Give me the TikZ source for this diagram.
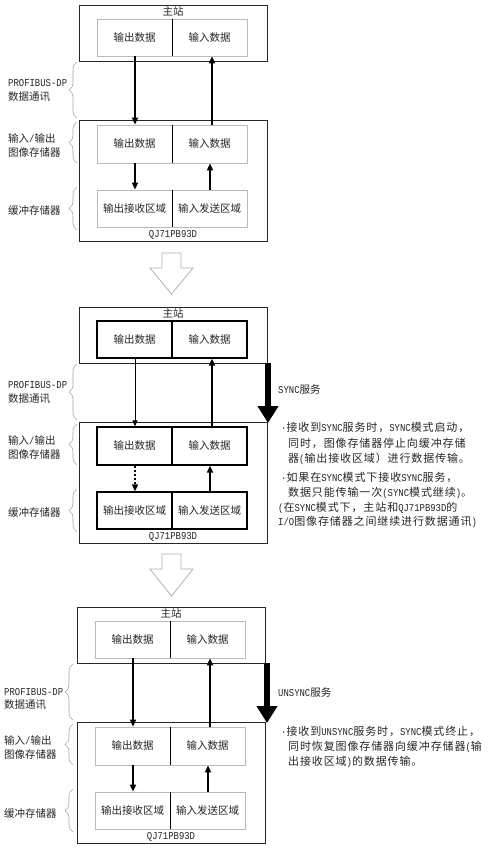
\documentclass[tikz,border=0pt]{standalone}
\usepackage{fontspec}
\setmainfont{Noto Sans CJK SC}
\newfontfamily\notefont{Noto Sans CJK SC}[LetterSpace=8]
\newfontfamily\latf{Liberation Mono}[FakeStretch=0.85]
\usetikzlibrary{arrows.meta,decorations.pathreplacing}
\newcommand\latn[1]{{\fontsize{10.5}{12}\selectfont\latf #1}}
\newcommand\latsm[1]{{\fontsize{10.5}{12}\selectfont\latf #1}}
\tikzset{
  outer/.style={draw=black!85, line width=0.9pt, minimum width=188pt, inner sep=0},
  half/.style={draw=gray!55, line width=0.8pt, minimum width=75pt, minimum height=37pt, inner sep=0, text height=8.5pt, text depth=1.5pt},
  halfb/.style={half, draw=black, line width=1.3pt},
  divl/.style={draw=black, line width=0.9pt},
  txt/.style={inner sep=0, text height=8.5pt, text depth=1.5pt},
  note/.style={txt, anchor=west, font=\notefont\fontsize{11}{13}\selectfont},
  brc/.style={draw=gray!70, line width=0.6pt, decorate, decoration={brace, amplitude=8pt}},
  arr/.style={line width=1.8pt, -{Triangle[width=6pt,length=7pt]}},
  tarr/.style={line width=0.8pt, -{Triangle[width=5pt,length=6pt]}},
  darr/.style={arr, dash pattern=on 2.5pt off 1.5pt},
  bigarr/.style={line width=5.5pt, -{Triangle[width=20pt,length=17pt]}},
  hollow/.style={draw=gray!60, line width=0.8pt, fill=white},
}
\begin{document}
\begin{tikzpicture}[x=1pt, y=-1pt, font=\fontsize{10.5}{12}\selectfont, text=black!85]
\fill[white] (0,0) rectangle (490,849);
\useasboundingbox (0,0) rectangle (490,849);

% ---------------- Panel 1 ----------------
\begin{scope}[name prefix=a-]
\node[outer, minimum height=56pt] (main) at (173,33) {};
\node[txt] (title) at (173,12) {主站};
\node[half] (mo) at (134.5,37.5) {输出数据};
\node[half] (mi) at (209.5,37.5) {输入数据};
\draw[divl] (mo.north east) -- (mo.south east);
\node[outer, minimum height=121pt] (qj) at (173,180.5) {};
\node[half, minimum height=38pt] (ioo) at (134.5,144) {输出数据};
\node[half, minimum height=38pt] (ioi) at (209.5,144) {输入数据};
\draw[divl] (ioo.north east) -- (ioo.south east);
\node[half] (bo) at (134.5,208.5) {输出接收区域};
\node[half] (bi) at (209.5,208.5) {输入发送区域};
\draw[divl] (bo.north east) -- (bo.south east);
\node[txt] (lbl) at (173,234) {\latn{QJ71PB93D}};
\draw[arr] ([xshift=0.5pt]mo.south) -- ([xshift=0.5pt]ioo.north);
\draw[arr] ([xshift=2.5pt]ioi.north) -- ([xshift=2.5pt]mi.south);
\draw[arr] ([xshift=0.5pt]ioo.south) -- ([xshift=0.5pt]bo.north);
\draw[arr] ([xshift=0.5pt]bi.north) -- ([xshift=0.5pt]ioi.south);
\node[txt, anchor=west] (l1a) at (8,83) {\latn{PROFIBUS-DP}};
\node[txt, anchor=west] (l1b) at (8,97) {数据通讯};
\node[txt, anchor=west] (l2a) at (8,139) {输入\latn{/}输出};
\node[txt, anchor=west] (l2b) at (8,153) {图像存储器};
\node[txt, anchor=west] (l3) at (8,211) {缓冲存储器};
\draw[brc] (77,118) -- (77,62);
\draw[brc] (77,163) -- (77,122);
\draw[brc] (77,230) -- (77,187);
\end{scope}

% hollow arrow 1
\draw[hollow] (162,253) -- (181,253) -- (181,268) -- (193,268) -- (171.5,294) -- (150,268) -- (162,268) -- cycle;

% ---------------- Panel 2 ----------------
\begin{scope}[shift={(0,302)}, name prefix=b-]
\node[outer, minimum height=56pt] (main) at (173,33) {};
\node[txt] (title) at (173,12) {主站};
\node[halfb] (mo) at (134.5,37.5) {输出数据};
\node[halfb] (mi) at (209.5,37.5) {输入数据};
\node[outer, minimum height=121pt] (qj) at (173,180.5) {};
\node[halfb, minimum height=38pt] (ioo) at (134.5,144) {输出数据};
\node[halfb, minimum height=38pt] (ioi) at (209.5,144) {输入数据};
\node[halfb] (bo) at (134.5,208.5) {输出接收区域};
\node[halfb] (bi) at (209.5,208.5) {输入发送区域};
\node[txt] (lbl) at (173,234) {\latn{QJ71PB93D}};
\draw[tarr] ([xshift=0.5pt]mo.south) -- ([xshift=0.5pt]ioo.north);
\draw[arr] ([xshift=2.5pt]ioi.north) -- ([xshift=2.5pt]mi.south);
\draw[darr] ([xshift=0.5pt]ioo.south) -- ([xshift=0.5pt]bo.north);
\draw[arr] ([xshift=0.5pt]bi.north) -- ([xshift=0.5pt]ioi.south);
\node[txt, anchor=west] (l1a) at (8,83) {\latn{PROFIBUS-DP}};
\node[txt, anchor=west] (l1b) at (8,97) {数据通讯};
\node[txt, anchor=west] (l2a) at (8,139) {输入\latn{/}输出};
\node[txt, anchor=west] (l2b) at (8,153) {图像存储器};
\node[txt, anchor=west] (l3) at (8,211) {缓冲存储器};
\draw[brc] (77,118) -- (77,62);
\draw[brc] (77,163) -- (77,122);
\draw[brc] (77,230) -- (77,187);
\coordinate (sa) at (268,61);
\coordinate (sb) at (268,121);
\draw[bigarr] (sa) -- (sb);
\node[txt, anchor=west] (svc) at (278,88) {\latn{SYNC}服务};
\node[note] (n1) at (281,126) {\latsm{·}接收到\latsm{SYNC}服务时，\latsm{SYNC}模式启动，};
\node[note] (n2) at (288,142) {同时，图像存储器停止向缓冲存储};
\node[note] (n3) at (288,157) {器\latsm{(}输出接收区域）进行数据传输。};
\node[note] (n4) at (281,176) {\latsm{·}如果在\latsm{SYNC}模式下接收\latsm{SYNC}服务，};
\node[note] (n5) at (288,191) {数据只能传输一次\latsm{(SYNC}模式继续\latsm{)}。};
\node[note] (n6) at (278,206) {\latsm{(}在\latsm{SYNC}模式下，主站和\latsm{QJ71PB93D}的};
\node[note] (n7) at (278,220) {\latsm{I/O}图像存储器之间继续进行数据通讯\latsm{)}};
\end{scope}

% hollow arrow 2
\draw[hollow] (162,554) -- (181,554) -- (181,569) -- (193,569) -- (171.5,596) -- (150,569) -- (162,569) -- cycle;

% ---------------- Panel 3 ----------------
\begin{scope}[shift={(-2,602)}, name prefix=c-]
\node[outer, minimum height=56pt] (main) at (173,33) {};
\node[txt] (title) at (173,12) {主站};
\node[half] (mo) at (134.5,37.5) {输出数据};
\node[half] (mi) at (209.5,37.5) {输入数据};
\draw[divl] (mo.north east) -- (mo.south east);
\node[outer, minimum height=121pt] (qj) at (173,180.5) {};
\node[half, minimum height=38pt] (ioo) at (134.5,144) {输出数据};
\node[half, minimum height=38pt] (ioi) at (209.5,144) {输入数据};
\draw[divl] (ioo.north east) -- (ioo.south east);
\node[half] (bo) at (134.5,208.5) {输出接收区域};
\node[half] (bi) at (209.5,208.5) {输入发送区域};
\draw[divl] (bo.north east) -- (bo.south east);
\node[txt] (lbl) at (173,234) {\latn{QJ71PB93D}};
\draw[arr] ([xshift=0.5pt]mo.south) -- ([xshift=0.5pt]ioo.north);
\draw[arr] ([xshift=2.5pt]ioi.north) -- ([xshift=2.5pt]mi.south);
\draw[arr] ([xshift=0.5pt]ioo.south) -- ([xshift=0.5pt]bo.north);
\draw[arr] ([xshift=0.5pt]bi.north) -- ([xshift=0.5pt]ioi.south);
\node[txt, anchor=west] (l1a) at (6,90) {\latn{PROFIBUS-DP}};
\node[txt, anchor=west] (l1b) at (6,103) {数据通讯};
\node[txt, anchor=west] (l2a) at (6,139) {输入\latn{/}输出};
\node[txt, anchor=west] (l2b) at (6,153) {图像存储器};
\node[txt, anchor=west] (l3) at (6,212) {缓冲存储器};
\draw[brc] (75,118) -- (75,62);
\draw[brc] (75,163) -- (75,122);
\draw[brc] (75,230) -- (75,187);
\coordinate (sa) at (269,61);
\coordinate (sb) at (269,121);
\draw[bigarr] (sa) -- (sb);
\node[txt, anchor=west] (svc) at (280,91) {\latn{UNSYNC}服务};
\node[note] (n1) at (283,130) {\latsm{·}接收到\latsm{UNSYNC}服务时，\latsm{SYNC}模式终止，};
\node[note] (n2) at (290,145) {同时恢复图像存储器向缓冲存储器\latsm{(}输};
\node[note] (n3) at (290,160) {出接收区域\latsm{)}的数据传输。};
\end{scope}
\end{tikzpicture}
\end{document}
